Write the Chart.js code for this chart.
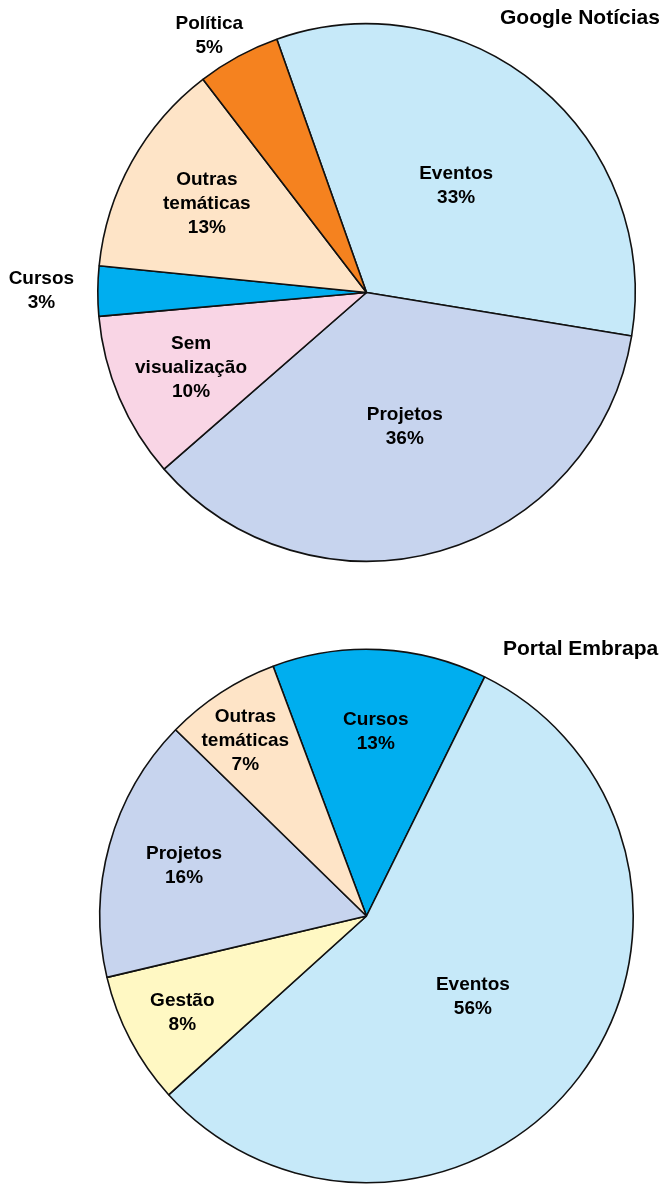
<!DOCTYPE html>
<html>
<head>
<meta charset="utf-8">
<script src="https://cdn.jsdelivr.net/npm/chart.js@4"></script>
<style>
  html, body { margin: 0; padding: 0; background: #ffffff; }
  body { width: 663px; height: 1185px; position: relative; overflow: hidden; }
  canvas { position: absolute; left: 0; }
  #c1 { top: 0; }
  #c2 { top: 600px; }
</style>
</head>
<body>
<canvas id="c1" width="663" height="600"></canvas>
<canvas id="c2" width="663" height="585"></canvas>
<script>
// ---- Data: Google Notícias ----
const titleTop = "Google Notícias";
const categoriesTop = ["Eventos", "Projetos", "Sem visualização", "Cursos", "Outras temáticas", "Política"];
const valuesTop = [33, 36, 10, 3, 13, 5];

// ---- Data: Portal Embrapa ----
const titleBottom = "Portal Embrapa";
const categoriesBottom = ["Cursos", "Eventos", "Gestão", "Projetos", "Outras temáticas"];
const valuesBottom = [13, 56, 8, 16, 7];

// ---- Styles (kept apart from the data) ----
const colorMap = {
  "Eventos": "#C6E9F9",
  "Projetos": "#C7D4EE",
  "Sem visualização": "#F9D5E5",
  "Cursos": "#00AEEF",
  "Outras temáticas": "#FEE4C7",
  "Política": "#F5821F",
  "Gestão": "#FFF8C3"
};
// label distance from centre (fraction of radius) and angular nudge (degrees)
const labelRadiusTop = [0.52, 0.52, 0.71, 1.21, 0.68, 1.12];
const labelNudgeTop = [0, 0, 0, 0, 0, -3];
const labelRadiusBottom = [0.69, 0.50, 0.78, 0.71, 0.80];
const labelNudgeBottom = [0, 0, 0, 0, -1.5];

const FONT = 'bold 19px "Liberation Sans", Arial, sans-serif';
const TITLE_FONT = 'bold 21px "Liberation Sans", Arial, sans-serif';
const LINE_H = 24;

function labelPlugin(title, titleX, titleY, radii, nudges) {
  return {
    id: 'sliceLabels',
    afterDatasetsDraw(chart) {
      const ctx = chart.ctx;
      const meta = chart.getDatasetMeta(0);
      const data = chart.data.datasets[0].data;
      const total = data.reduce((a, b) => a + b, 0);
      ctx.save();
      ctx.fillStyle = '#000000';
      ctx.textAlign = 'center';
      ctx.textBaseline = 'middle';
      ctx.font = FONT;
      meta.data.forEach((arc, i) => {
        const p = arc.getProps(['x', 'y', 'startAngle', 'endAngle', 'outerRadius'], true);
        const mid = (p.startAngle + p.endAngle) / 2 + nudges[i] * Math.PI / 180;
        const r = p.outerRadius * radii[i];
        const cx = p.x + Math.cos(mid) * r;
        const cy = p.y + Math.sin(mid) * r;
        const lines = chart.data.labels[i].split(' ');
        lines.push(Math.round(data[i] / total * 100) + '%');
        const startY = cy - (lines.length - 1) * LINE_H / 2;
        lines.forEach((t, k) => ctx.fillText(t, cx, startY + k * LINE_H));
      });
      ctx.font = TITLE_FONT;
      ctx.textAlign = 'left';
      ctx.fillText(title, titleX, titleY);
      ctx.restore();
    }
  };
}

function makePie(id, title, cats, vals, rotation, padding, titleX, titleY, radii, nudges) {
  return new Chart(document.getElementById(id), {
    type: 'pie',
    data: {
      labels: cats,
      datasets: [{
        data: vals,
        backgroundColor: cats.map(c => colorMap[c]),
        borderColor: '#111111',
        borderWidth: 1.6
      }]
    },
    options: {
      responsive: false,
      animation: false,
      devicePixelRatio: 1,
      rotation: rotation,
      layout: { padding: padding },
      plugins: {
        legend: { display: false },
        tooltip: { enabled: false },
        title: { display: false }
      }
    },
    plugins: [labelPlugin(title, titleX, titleY, radii, nudges)]
  });
}

makePie('c1', titleTop, categoriesTop, valuesTop, -19.5,
  { left: 97, right: 27, top: 23, bottom: 38 }, 500, 18, labelRadiusTop, labelNudgeTop);
makePie('c2', titleBottom, categoriesBottom, valuesBottom, -20.5,
  { left: 99, right: 29, top: 48, bottom: 1 }, 503, 49, labelRadiusBottom, labelNudgeBottom);
</script>
</body>
</html>
